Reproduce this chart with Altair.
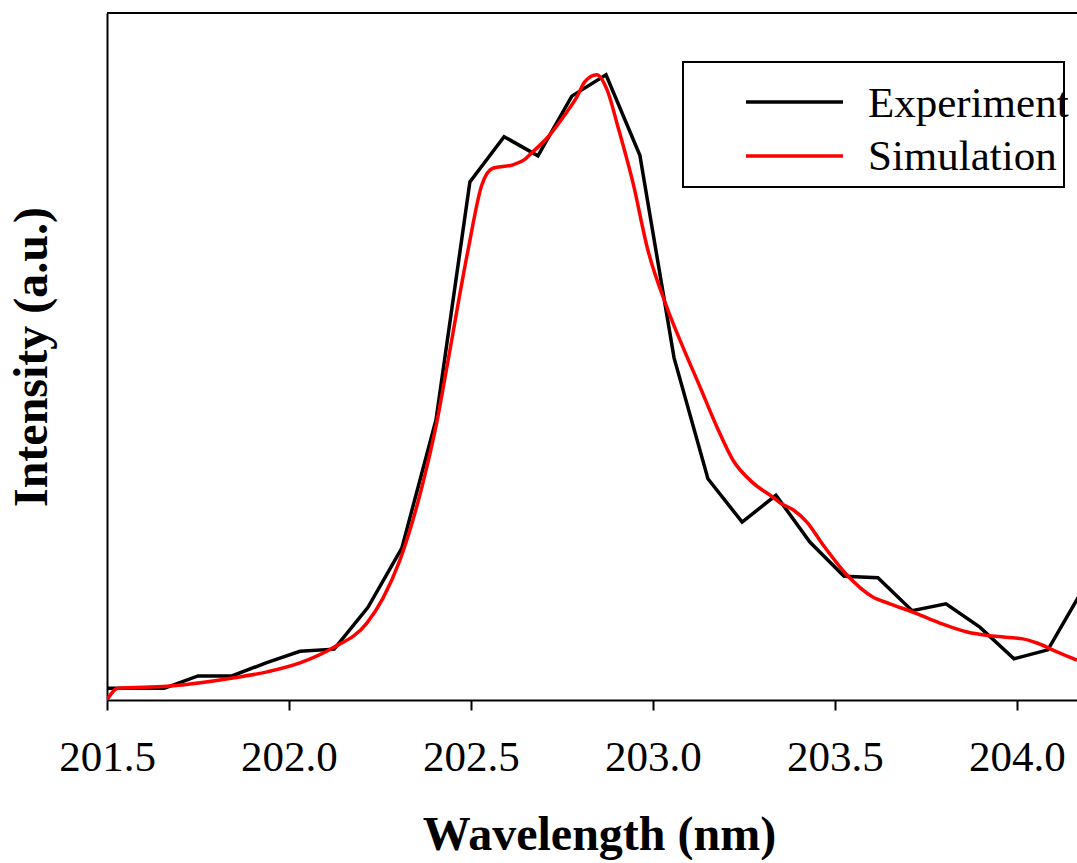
import altair as alt
import pandas as pd

# ---- data ----
exp_wavelength = [201.470, 201.563, 201.657, 201.750, 201.843, 201.937, 202.030, 202.124,
                  202.217, 202.310, 202.404, 202.497, 202.591, 202.684, 202.777, 202.871,
                  202.964, 203.058, 203.151, 203.245, 203.338, 203.431, 203.525, 203.618,
                  203.712, 203.805, 203.898, 203.992, 204.085, 204.179]
exp_intensity = [0.017, 0.017, 0.017, 0.035, 0.035, 0.054, 0.071, 0.074,
                 0.135, 0.221, 0.408, 0.754, 0.820, 0.792, 0.879, 0.910,
                 0.793, 0.498, 0.322, 0.259, 0.298, 0.230, 0.180, 0.178,
                 0.130, 0.140, 0.106, 0.060, 0.073, 0.159]

sim_wavelength = [201.500, 201.530, 201.665, 201.846, 201.940, 202.030, 202.121, 202.214,
                  202.258, 202.305, 202.368, 202.409, 202.434, 202.492, 202.530,
                  202.560, 202.615, 202.648, 202.670, 202.709, 202.758, 202.791, 202.813,
                  202.846, 202.874, 202.904, 202.945, 202.986, 203.038, 203.082, 203.129,
                  203.176, 203.220, 203.275, 203.330, 203.349, 203.385, 203.423, 203.467,
                  203.533, 203.604, 203.651, 203.714, 203.788, 203.863, 203.934, 204.016,
                  204.055, 204.110, 204.165]
sim_intensity = [0.000, 0.017, 0.020, 0.032, 0.041, 0.054, 0.076, 0.112,
                 0.148, 0.204, 0.316, 0.412, 0.485, 0.655, 0.750,
                 0.774, 0.779, 0.787, 0.798, 0.818, 0.852, 0.878, 0.900,
                 0.910, 0.888, 0.834, 0.753, 0.655, 0.572, 0.514, 0.456,
                 0.397, 0.349, 0.316, 0.295, 0.287, 0.277, 0.259, 0.226,
                 0.182, 0.150, 0.140, 0.128, 0.112, 0.099, 0.093, 0.089,
                 0.083, 0.070, 0.058]

x_ticks = [201.5, 202.0, 202.5, 203.0, 203.5, 204.0]
legend_labels = ["Experiment", "Simulation"]
legend_colors = ["#000000", "#ff0000"]

FONT = "Liberation Serif"
W, H = 970, 687

exp_df = pd.DataFrame({"wavelength": exp_wavelength, "intensity": exp_intensity})
sim_df = pd.DataFrame({"wavelength": sim_wavelength, "intensity": sim_intensity})

x_scale = alt.Scale(domain=[201.5, 204.165], nice=False, zero=False)
y_scale = alt.Scale(domain=[0, 1], nice=False, zero=False)

x_axis = alt.Axis(
    values=x_ticks, format=".1f", grid=False,
    labelFont=FONT, labelFontSize=43, labelColor="black", labelPadding=26,
    labelFlush=False, labelOverlap=False,
    tickSize=10, tickWidth=2, tickColor="black",
    domainColor="black", domainWidth=2,
    title="Wavelength (nm)", titleFont=FONT, titleFontSize=48, titleFontWeight="bold",
    titleColor="black", titleX=492, titleY=149, titleBaseline="alphabetic", titleAlign="center",
)
y_axis = alt.Axis(
    labels=False, ticks=False, grid=False,
    domainColor="black", domainWidth=2,
    title="Intensity (a.u.)", titleFont=FONT, titleFontSize=48, titleFontWeight="bold",
    titleColor="black", titleAngle=270, titleX=-61, titleY=H / 2,
    titleBaseline="alphabetic", titleAlign="center",
)

exp_line = alt.Chart(exp_df).mark_line(color=legend_colors[0], strokeWidth=3.5, clip=True).encode(
    x=alt.X("wavelength:Q", scale=x_scale, axis=x_axis),
    y=alt.Y("intensity:Q", scale=y_scale, axis=y_axis),
)
sim_line = alt.Chart(sim_df).mark_line(color=legend_colors[1], strokeWidth=3.5, clip=True,
                                        interpolate="monotone").encode(
    x=alt.X("wavelength:Q", scale=x_scale),
    y=alt.Y("intensity:Q", scale=y_scale),
)

one = pd.DataFrame({"k": [0]})
top_border = alt.Chart(one).mark_rule(color="black", strokeWidth=2).encode(
    x=alt.value(0), x2=alt.value(W), y=alt.value(0)
)

# legend box (drawn inside the plot, as in the reference)
leg_box = alt.Chart(one).mark_rect(fill="white", stroke="black", strokeWidth=2).encode(
    x=alt.value(576), x2=alt.value(957), y=alt.value(49), y2=alt.value(174)
)
leg_layers = [leg_box]
for i, (lab, col) in enumerate(zip(legend_labels, legend_colors)):
    yy = 89 + 54 * i
    leg_layers.append(
        alt.Chart(one).mark_rule(color=col, strokeWidth=3.5).encode(
            x=alt.value(639), x2=alt.value(736), y=alt.value(yy)
        )
    )
    leg_layers.append(
        alt.Chart(one).mark_text(text=lab, font=FONT, fontSize=43, color="black",
                                 align="left", baseline="alphabetic").encode(
            x=alt.value(761), y=alt.value(104 + 53 * i)
        )
    )

chart = alt.layer(exp_line, sim_line, top_border, *leg_layers).properties(
    width=W, height=H,
    autosize=alt.AutoSizeParams(type="none"),
    padding={"left": 107, "top": 13, "right": 0, "bottom": 160},
    background="white",
).configure_view(stroke=None)

chart.save("out.html", embed_options={"renderer": "svg", "actions": False})
